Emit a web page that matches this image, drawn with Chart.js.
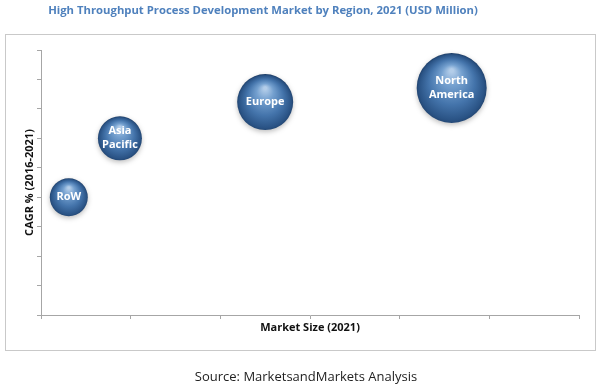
<!DOCTYPE html>
<html>
<head>
<meta charset="utf-8">
<script src="https://cdn.jsdelivr.net/npm/chart.js@4"></script>
<style>
  html, body { margin: 0; padding: 0; background: #fff; }
  #wrap { width: 600px; height: 388px; }
</style>
</head>
<body>
<div id="wrap"><canvas id="regionChart" width="600" height="388"></canvas></div>
<script>
// data (axes have no tick labels)
const regions = ["RoW", "Asia Pacific", "Europe", "North America"];
const regionLabels = [["RoW"], ["Asia", "Pacific"], ["Europe"], ["North", "America"]];
const marketSize = [0.31, 0.88, 2.5, 4.58];
const cagr = [4.0, 6.0, 7.23, 7.71];
const bubbleSize = [19, 22, 28, 35];

const chartTitle = "High Throughput Process Development Market by Region, 2021 (USD Million)";
const sourceText = "Source: MarketsandMarkets Analysis";

const points = regions.map((name, i) => ({ x: marketSize[i], y: cagr[i], r: bubbleSize[i] }));

// shaded sphere look for every bubble
function sphereFill(context) {
  const chart = context.chart;
  const raw = context.raw;
  if (!raw || !chart.chartArea) return "#3f6fa5";
  const cx = chart.scales.x.getPixelForValue(raw.x);
  const cy = chart.scales.y.getPixelForValue(raw.y);
  const r = raw.r;
  const g = chart.ctx.createRadialGradient(cx, cy - r * 0.5, r * 0.05, cx, cy + r * 0.05, r * 1.05);
  g.addColorStop(0, "#b3cde9");
  g.addColorStop(0.25, "#74a0cf");
  g.addColorStop(0.6, "#4474ab");
  g.addColorStop(0.88, "#2a5385");
  g.addColorStop(1, "#1d3c64");
  return g;
}

// frame, title and source line
const framePlugin = {
  id: "frame",
  beforeDraw(chart) {
    const ctx = chart.ctx;
    ctx.save();
    ctx.strokeStyle = "#c9c9c9";
    ctx.lineWidth = 1;
    ctx.strokeRect(5.5, 34.5, 590, 316);
    ctx.textAlign = "center";
    ctx.textBaseline = "middle";
    ctx.fillStyle = "#4f81bd";
    ctx.font = "bold 11.3px 'Open Sans'";
    ctx.fillText(chartTitle, 263, 11);
    ctx.fillStyle = "#222";
    ctx.font = "13px 'Open Sans'";
    ctx.fillText(sourceText, 306, 377);
    ctx.restore();
  },
  beforeDatasetsDraw(chart) {
    const ctx = chart.ctx;
    ctx.save();
    ctx.shadowColor = "rgba(0,0,0,0.25)";
    ctx.shadowBlur = 5;
    ctx.shadowOffsetY = 2;
  },
  afterDatasetsDraw(chart) {
    const ctx = chart.ctx;
    ctx.restore();
    ctx.save();
    ctx.fillStyle = "#fff";
    ctx.textAlign = "center";
    ctx.textBaseline = "middle";
    ctx.font = "bold 11px 'Open Sans'";
    chart.getDatasetMeta(0).data.forEach((el, i) => {
      const lines = regionLabels[i];
      const lh = 14;
      lines.forEach((line, j) => {
        ctx.fillText(line, el.x, el.y + (j - (lines.length - 1) / 2) * lh);
      });
    });
    ctx.restore();
  }
};

const axisColor = "#a6a6a6";

new Chart(document.getElementById("regionChart").getContext("2d"), {
  type: "bubble",
  data: {
    datasets: [{
      label: "Regions",
      data: points,
      backgroundColor: sphereFill,
      borderWidth: 0,
      hoverRadius: 0,
      clip: false
    }]
  },
  options: {
    responsive: false,
    animation: false,
    layout: { autoPadding: false, padding: { top: 50, right: 21, left: 0, bottom: 0 } },
    scales: {
      x: {
        min: 0,
        max: 6,
        ticks: { stepSize: 1, display: false },
        grid: { drawOnChartArea: false, drawTicks: true, tickLength: 4, color: axisColor },
        border: { color: axisColor },
        title: {
          display: true,
          text: "Market Size (2021)",
          color: "#111",
          font: { family: "Open Sans", size: 11, weight: "bold" },
          padding: { bottom: 54 }
        },
        afterFit: (s) => { s.height = 73; }
      },
      y: {
        min: 0,
        max: 9,
        ticks: { stepSize: 1, display: false },
        grid: { drawOnChartArea: false, drawTicks: true, tickLength: 4, color: axisColor },
        border: { color: axisColor },
        title: {
          display: true,
          text: "CAGR % (2016-2021)",
          color: "#111",
          font: { family: "Open Sans", size: 11, weight: "bold" },
          padding: { top: 23 }
        },
        afterFit: (s) => { s.width = 41; }
      }
    },
    plugins: {
      legend: { display: false },
      tooltip: { enabled: false }
    }
  },
  plugins: [framePlugin]
});
</script>
</body>
</html>
